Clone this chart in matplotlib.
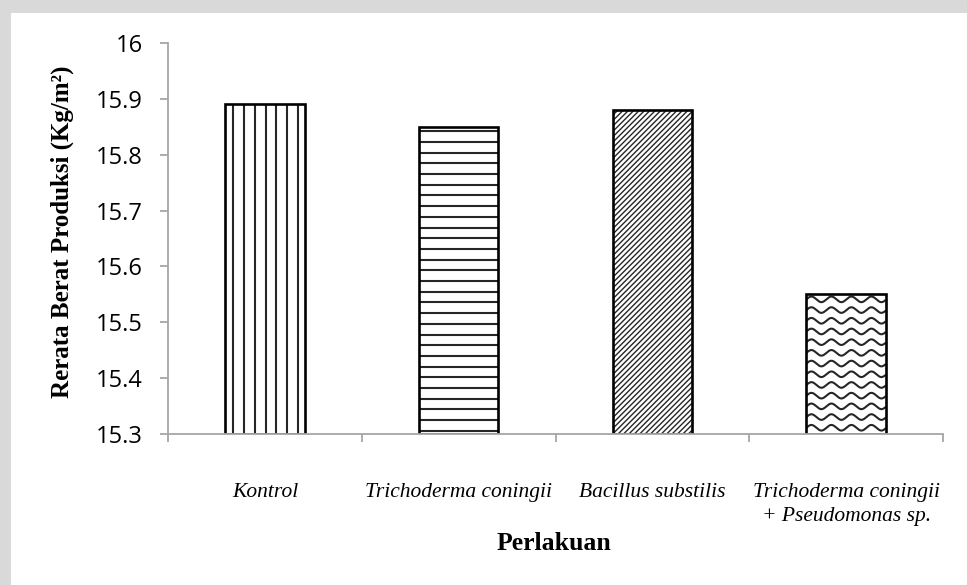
import numpy as np
import matplotlib
matplotlib.use("Agg")
import matplotlib.pyplot as plt
from matplotlib.patches import Rectangle

# ---- data ----
categories = ["Kontrol", "Trichoderma coningii", "Bacillus substilis",
              "Trichoderma coningii\n+ Pseudomonas sp."]
values = [15.89, 15.85, 15.88, 15.55]
patterns = ["vertical", "horizontal", "diagonal", "wave"]
yticks = [15.3, 15.4, 15.5, 15.6, 15.7, 15.8, 15.9, 16.0]
ytick_labels = ["15.3", "15.4", "15.5", "15.6", "15.7", "15.8", "15.9", "16"]
YMIN, YMAX = 15.3, 16.0

SERIF = ["Liberation Serif", "DejaVu Serif"]
SANS = ["Open Sans", "Liberation Sans", "DejaVu Sans"]
AXC = "#a6a6a6"
LINEC = "#262626"

W, H = 967, 585
fig = plt.figure(figsize=(W / 100, H / 100), dpi=100, facecolor="#d9d9d9")
fig.patches.append(Rectangle((11 / W, 0), 1, 1 - 13 / H, transform=fig.transFigure,
                             facecolor="white", edgecolor="none", zorder=-5))
ax = fig.add_axes([168 / W, 1 - 434 / H, (943 - 168) / W, (434 - 43) / H])
ax.set_facecolor("none")

x = np.arange(len(categories))
ax.set_xlim(-0.5, len(categories) - 0.5)
ax.set_ylim(YMIN, YMAX)

heights = [v - YMIN for v in values]
fills = ax.bar(x, heights, 0.41, bottom=YMIN, color="white", edgecolor="none", zorder=1)
ax.bar(x, heights, 0.41, bottom=YMIN, fill=False, edgecolor="black", lw=1.9, zorder=3)

# data units per pixel, to lay out Excel-like fill patterns
bb = ax.get_window_extent()
ppx = (ax.get_xlim()[1] - ax.get_xlim()[0]) / bb.width
ppy = (YMAX - YMIN) / bb.height


def pattern_lines(bar, kind):
    x0, y0 = bar.get_x(), bar.get_y()
    wpx, hpx = bar.get_width() / ppx, bar.get_height() / ppy
    segs = []
    lw = 1.5
    if kind == "vertical":
        for px in np.arange(8.3, wpx - 2, 10.7):
            segs.append((np.array([px, px]), np.array([0, hpx])))
    elif kind == "horizontal":
        for py in np.arange(hpx - 4.5, 0, -10.7):
            segs.append((np.array([0, wpx]), np.array([py, py])))
    elif kind == "diagonal":
        lw = 1.0
        for c in np.arange(-hpx, wpx + 5, 5.4):
            segs.append((np.array([c, c + hpx * 1.0]), np.array([0, hpx])))
    elif kind == "wave":
        t = np.linspace(0, wpx, 200)
        for py in np.arange(hpx - 5, -5, -10.7):
            segs.append((t, py + 2.8 * np.sin(2 * np.pi * t / 20.0)))
    for sx, sy in segs:
        ln, = ax.plot(x0 + sx * ppx, y0 + sy * ppy, color=LINEC, lw=lw, zorder=2,
                      solid_capstyle="butt")
        ln.set_clip_path(bar)


for bar, kind in zip(fills, patterns):
    pattern_lines(bar, kind)

# axes styling
for s in ["top", "right"]:
    ax.spines[s].set_visible(False)
for s in ["left", "bottom"]:
    ax.spines[s].set_color(AXC)
    ax.spines[s].set_linewidth(1.3)
    ax.spines[s].set_zorder(4)

ax.set_yticks(yticks)
ax.set_yticklabels(ytick_labels, family=SANS, fontsize=17)
ax.tick_params(axis="y", direction="out", length=6, width=1.3, color=AXC, pad=12)

ax.set_xticks(x)
ax.set_xticklabels(categories, family=SERIF, style="italic", fontsize=15.5, linespacing=1.4,
                   va="top")
ax.set_xticks(np.arange(-0.5, len(categories), 1.0), minor=True)
ax.tick_params(axis="x", which="major", length=0, pad=35)
ax.tick_params(axis="x", which="minor", direction="out", length=6, width=1.3, color=AXC)

fig.text(62 / W, 1 - 232 / H, "Rerata Berat Produksi (Kg/m\u00b2)", rotation=90,
         ha="center", va="center", family=SERIF, fontweight="bold", fontsize=18)
fig.text(554 / W, 1 - 543 / H, "Perlakuan", ha="center", va="center",
         family=SERIF, fontweight="bold", fontsize=18.5)

fig.savefig("out.png", dpi=100, facecolor=fig.get_facecolor())
